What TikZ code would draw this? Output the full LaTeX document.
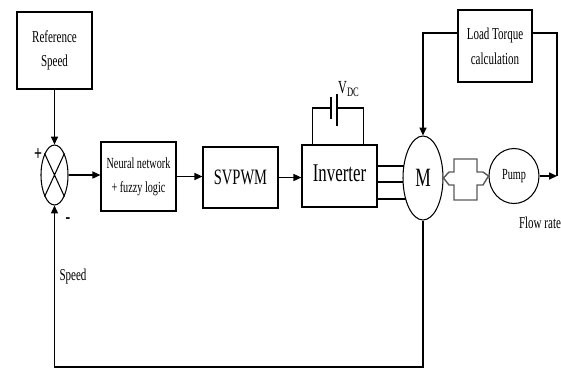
\documentclass[tikz,border=0pt]{standalone}
\usepackage{fontspec}
\setmainfont{Liberation Serif}[FakeStretch=0.66]
\usetikzlibrary{arrows.meta, positioning, shapes.geometric, calc}

\tikzset{
  blk/.style={draw, line width=0.7pt, align=center, inner sep=0pt},
  sig/.style={line width=0.7pt, -{Triangle[length=4.5pt,width=4pt]}},
  wire/.style={line width=0.6pt},
}

\begin{document}
\begin{tikzpicture}[x=0.02cm, y=-0.02cm, wire]
  \useasboundingbox (0,0) rectangle (561,370);

  % Blocks
  \node[blk, minimum width=1.5cm, minimum height=1.54cm, font=\fontsize{9.5}{14}\selectfont] (ref) at (54.5,50.5) {Reference\\Speed};
  \node[draw, ellipse, minimum width=0.54cm, minimum height=1.2cm, inner sep=0pt] (sum) at (54.5,175) {};
  \draw (sum.north west) -- (sum.south east) (sum.north east) -- (sum.south west);
  \node[blk, minimum width=1.5cm, minimum height=1.38cm, font=\fontsize{8.8}{13.5}\selectfont] (nn) at (138.5,176.5) {Neural network\\+ fuzzy logic};
  \node[blk, minimum width=1.5cm, minimum height=1.22cm, font=\fontsize{12.5}{14}\selectfont] (svm) at (240.5,177.5) {SVPWM};
  \node[blk, minimum width=1.5cm, minimum height=1.24cm, font=\fontsize{14.5}{18}\selectfont] (inv) at (339.5,176) {\raisebox{3pt}{Inverter}};
  \node[draw, ellipse, minimum width=0.8cm, minimum height=1.68cm, inner sep=0pt, font=\fontsize{15}{18}\selectfont] (mot) at (423,178) {M};
  \node[draw, ellipse, minimum width=1.0cm, minimum height=1.1cm, inner sep=0pt, font=\fontsize{8.8}{10}\selectfont] (pump) at (514,176) {Pump};
  \node[blk, minimum width=1.48cm, minimum height=1.44cm, font=\fontsize{9.5}{14}\selectfont] (load) at (495,46) {Load Torque\\calculation};

  % Forward path
  \draw[sig] (ref) -- (sum);
  \draw[sig] (sum.east) -- (sum.east -| nn.west);
  \draw[sig] (nn.east) -- (nn.east -| svm.west);
  \draw[sig] (svm.east) -- (svm.east -| inv.west);

  % DC link
  \draw ($(inv.north west)+(11,0)$) |- (331,108);
  \draw (331,97) -- (331,119);
  \draw[line width=0.8pt] (337,94) -- (337,126);
  \draw (337,108) -| ($(inv.north east)+(-14,0)$);
  \node[font=\fontsize{10.5}{12}\selectfont] (vdc) at (349,89) {V\textsubscript{DC}};

  % Three phases
  \foreach \y/\xe in {166/404,182/403,199/406}
    \draw (inv.east |- 0,\y) -- (\xe,\y);

  % Shaft coupling
  \draw[line width=0.8pt, gray!70!black] (mot.east) -- (449,172) -- (454,172) -- (454,159) -- (477,159)
    -- (477,172) -- (483,172) -- (pump.west) -- (483,185) -- (477,185) -- (477,200) -- (454,200)
    -- (454,185) -- (449,185) -- cycle;

  % Load torque
  \coordinate (flow) at (557,176);
  \draw[sig] (load.west |- 0,33) -| (mot.north);
  \draw[sig] (pump.east) -- (flow);
  \draw (load.east |- 0,33) -| (flow);

  % Feedback
  \coordinate (fb) at (423,367);
  \draw[sig] (mot.south) -- (fb) -| (sum.south);

  % Labels
  \node[font=\fontsize{12}{12}\selectfont\bfseries] (plus) at (38,155) {+};
  \node[font=\fontsize{12}{12}\selectfont\bfseries] (minus) at (68,221) {-};
  \node[font=\fontsize{9.5}{11}\selectfont] (spd) at (73,276) {Speed};
  \node[font=\fontsize{9.5}{11}\selectfont] (flw) at (540,223) {Flow rate};
\end{tikzpicture}
\end{document}
